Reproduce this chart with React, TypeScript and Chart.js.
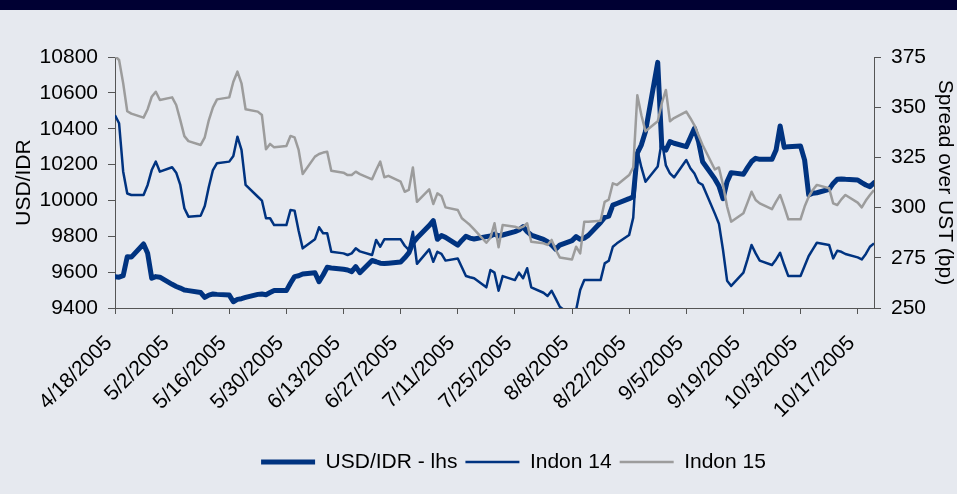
import React, { useEffect, useRef } from 'react';
import { Chart, registerables } from 'chart.js';

Chart.register(...registerables);

// ---- data -------------------------------------------------------------
const START_DATE = Date.UTC(2005, 3, 18); // 4/18/2005
const DAY_MS = 86400000;
const LAST_DAY = 186; // 10/21/2005

// trading days (Mon-Fri) from 4/18/2005 to 10/21/2005, as day offsets
const tradingDays: number[] = [];
for (let d = 0; d <= LAST_DAY; d++) {
  const wd = new Date(START_DATE + d * DAY_MS).getUTCDay();
  if (wd !== 0 && wd !== 6) tradingDays.push(d);
}

const seriesNames = ['USD/IDR - lhs', 'Indon 14', 'Indon 15'];

const usdIdr = [
  9575, 9572, 9580, 9686, 9684,
  9757, 9705, 9566, 9575, 9572,
  9532, 9520, 9511, 9500, 9497,
  9486, 9459, 9472, 9478, 9476,
  9472, 9435, 9448, 9452, 9459,
  9476, 9478, 9474, 9486, 9497,
  9497, 9538, 9575, 9580, 9590,
  9597, 9547, 9584, 9627, 9623,
  9616, 9612, 9603, 9631, 9597,
  9665, 9658, 9650, 9648, 9650,
  9657, 9680, 9707, 9763, 9790,
  9860, 9887, 9783, 9804, 9794,
  9751, 9777, 9800, 9790, 9785,
  9798, 9802, 9813, 9802, 9807,
  9826, 9835, 9854, 9826, 9807,
  9783, 9770, 9751, 9728, 9751,
  9776, 9798, 9783, 9790, 9805,
  9877, 9905, 9913, 9974, 9983,
  10010, 10021, 10263, 10310, 10384,
  10770, 10300, 10281, 10328, 10319,
  10300, 10351, 10402, 10328, 10216,
  10120, 10080, 10010, 10105, 10155,
  10146, 10183, 10217, 10235, 10229,
  10229, 10281, 10415, 10296, 10300,
  10303, 10225, 10030, 10040, 10043,
  10062, 10095, 10118, 10120, 10118,
  10114, 10099, 10086, 10077, 10099,
];

const indon14 = [
  346, 342, 318, 307, 306.3,
  306.3, 311.3, 318.7, 322.9, 317.9,
  320.1, 317.4, 311.3, 299.7, 295.5,
  296, 300.8, 310.4, 318.7, 322.1,
  322.9, 325.7, 335.3, 328.7, 311.3,
  305.4, 303.5, 294.7, 294.7, 291.3,
  291.3, 298.8, 298.5, 288.5, 279.7,
  284.2, 290.2, 287.2, 287.2, 278,
  277.2, 276.4, 277.2, 279.7, 278.2,
  276.4, 283.9, 280.5, 284.2, 284.2,
  284.2, 281, 278.9, 288, 272,
  279.2, 273, 278, 277, 273.6,
  274.7, 270.3, 265.9, 265.3, 264.8,
  260.3, 268.9, 267.6, 258.6, 265.9,
  263.9, 267.6, 264.8, 269.8, 260.3,
  257.6, 256, 258.6, 254.7, 250.6,
  246, 249, 259, 263.9, 263.9,
  263.9, 272.2, 273.5, 280.5, 282.2,
  286.4, 295, 328.7, 320, 312.9,
  320.5, 333.5, 321, 317, 315,
  323.7, 319.6, 317, 312.5, 311.3,
  297, 292, 278.9, 263.6, 261,
  267.6, 274.2, 281.4, 277.2, 273.6,
  271.4, 274.2, 277.5, 271.4, 265.9,
  265.9, 270.9, 275.9, 279.2, 282.5,
  281.4, 274.7, 278.5, 278, 276.9,
  275.2, 274.2, 276.9, 280.5, 282.2,
];

const indon15 = [
  375.5, 373.5, 362, 348, 346.8,
  344.8, 349, 355.2, 357.7, 353.6,
  354.9, 351.1, 343.6, 335.6, 333.1,
  331.2, 335, 343.6, 349.9, 353.9,
  354.9, 362.7, 367.7, 361.9, 349,
  347.8, 346.1, 329, 331.7, 330,
  330.7, 335.7, 335, 328.7, 316.7,
  325.4, 326.7, 327.4, 327.8, 318.4,
  317.4, 316.2, 316.2, 317.9, 316.7,
  314.1, 318.7, 322.9, 315.1, 315.8,
  312.9, 307.9, 308.8, 320, 302.9,
  309.1, 301.8, 307.1, 305.8, 300.1,
  298.8, 294.7, 293, 291.3, 289.2,
  282.5, 285, 292.2, 280.2, 291.3,
  290.5, 289.7, 290.5, 292.2, 283,
  282.2, 281.4, 283.9, 279, 275.2,
  274.2, 280.5, 277.2, 293, 293,
  293.5, 302.9, 304, 312.1, 311.3,
  316.2, 320, 356, 346, 338,
  343, 352, 358.6, 343, 344.6,
  347.8, 344.5, 341, 336, 331.2,
  319, 320, 311.3, 300.5, 293,
  297.2, 302.5, 307.9, 303.8, 302.1,
  299.2, 303, 306.3, 300.5, 294.2,
  294.2, 300.5, 305.4, 308.8, 311.3,
  309.6, 302.1, 301.3, 304.1, 306.3,
  302.5, 300.1, 303.5, 306.3, 308.8,
];

const leftTicks = { min: 9400, max: 10800, step: 200 };
const rightTicks = { min: 250, max: 375, step: 25 };
const dateTickStep = 14;

// ---- helpers ------------------------------------------------------------
const FONT = '"Liberation Sans", Arial, Helvetica, sans-serif';
const dayLabel = (v: number) => {
  const dt = new Date(START_DATE + v * DAY_MS);
  return `${dt.getUTCMonth() + 1}/${dt.getUTCDate()}/${dt.getUTCFullYear()}`;
};
const toPoints = (vals: number[]) => tradingDays.map((d, i) => ({ x: d, y: vals[i] }));

export default function App() {
  const ref = useRef<HTMLCanvasElement>(null);

  useEffect(() => {
    if (!ref.current) return;
    const bgPlugin = {
      id: 'bgPlugin',
      beforeDraw(chart: any) {
        const c = chart.ctx;
        c.save();
        c.fillStyle = '#e6e9ef';
        c.fillRect(0, 0, chart.width, chart.height);
        c.fillStyle = '#000033';
        c.fillRect(0, 0, chart.width, 10);
        c.restore();
      },
      afterLayout(chart: any) {
        const lg = chart.legend;
        if (lg) {
          lg.left += 35;
          lg.right += 35;
          lg.top -= 11.5;
          lg.bottom -= 11.5;
        }
      },
    };

    const font = { family: FONT, size: 21 };
    const axisColor = '#555555';

    const chart = new Chart(ref.current, {
      type: 'line',
      data: {
        datasets: [
          {
            label: seriesNames[0],
            data: toPoints(usdIdr),
            borderColor: '#003380',
            backgroundColor: '#003380',
            borderWidth: 5,
            yAxisID: 'y',
            order: 2,
            pointRadius: 0,
            borderJoinStyle: 'round',
            borderCapStyle: 'round',
          },
          {
            label: seriesNames[1],
            data: toPoints(indon14),
            borderColor: '#003380',
            backgroundColor: '#003380',
            borderWidth: 2.5,
            yAxisID: 'y1',
            order: 1,
            pointRadius: 0,
            borderJoinStyle: 'round',
          },
          {
            label: seriesNames[2],
            data: toPoints(indon15),
            borderColor: '#9c9c9c',
            backgroundColor: '#9c9c9c',
            borderWidth: 2.5,
            yAxisID: 'y1',
            order: 0,
            pointRadius: 0,
            borderJoinStyle: 'round',
          },
        ],
      },
      options: {
        responsive: false,
        animation: false,
        devicePixelRatio: 1,
        layout: { padding: { top: 57, left: 0, right: 0, bottom: 0 } },
        plugins: {
          legend: {
            position: 'bottom',
            labels: {
              usePointStyle: true,
              pointStyle: 'line',
              pointStyleWidth: 54,
              font,
              color: '#000000',
              padding: 8,
              sort: (a: any, b: any) => a.datasetIndex - b.datasetIndex,
            },
          },
          tooltip: { enabled: false },
        },
        scales: {
          x: {
            type: 'linear',
            min: 0,
            max: LAST_DAY,
            afterFit: (s: any) => { s.height = 147; },
            grid: { drawOnChartArea: false, drawTicks: true, tickLength: 6, color: axisColor },
            border: { color: axisColor, width: 1 },
            ticks: {
              stepSize: dateTickStep,
              includeBounds: false,
              autoSkip: false,
              maxRotation: 45,
              minRotation: 45,
              padding: 17,
              labelOffset: -6,
              color: '#000000',
              font,
              callback: (v: any) => dayLabel(Number(v)),
            },
          },
          y: {
            position: 'left',
            min: leftTicks.min,
            max: leftTicks.max,
            afterFit: (s: any) => { s.width = 115; },
            grid: { drawOnChartArea: false, drawTicks: true, tickLength: 7, color: axisColor },
            border: { color: axisColor, width: 1 },
            ticks: {
              stepSize: leftTicks.step,
              padding: 10,
              color: '#000000',
              font,
              callback: (v: any) => String(v),
            },
            title: {
              display: true,
              text: 'USD/IDR',
              color: '#000000',
              font,
              padding: { top: 12, bottom: 0 },
            },
          },
          y1: {
            position: 'right',
            min: rightTicks.min,
            max: rightTicks.max,
            afterFit: (s: any) => { s.width = 83; },
            grid: { drawOnChartArea: false, drawTicks: true, tickLength: 7, color: axisColor },
            border: { color: axisColor, width: 1 },
            ticks: {
              stepSize: rightTicks.step,
              padding: 10,
              color: '#000000',
              font,
              callback: (v: any) => String(v),
            },
            title: {
              display: true,
              text: 'Spread over UST (bp)',
              color: '#000000',
              font,
              padding: { top: 0, bottom: 0 },
            },
          },
        },
      },
      plugins: [bgPlugin],
    } as any);

    return () => chart.destroy();
  }, []);

  return (
    <div style={{ position: 'fixed', left: 0, top: 0, width: 957, height: 494, background: '#e6e9ef' }}>
      <canvas ref={ref} width={957} height={494} style={{ display: 'block', width: 957, height: 494 }} />
    </div>
  );
}
